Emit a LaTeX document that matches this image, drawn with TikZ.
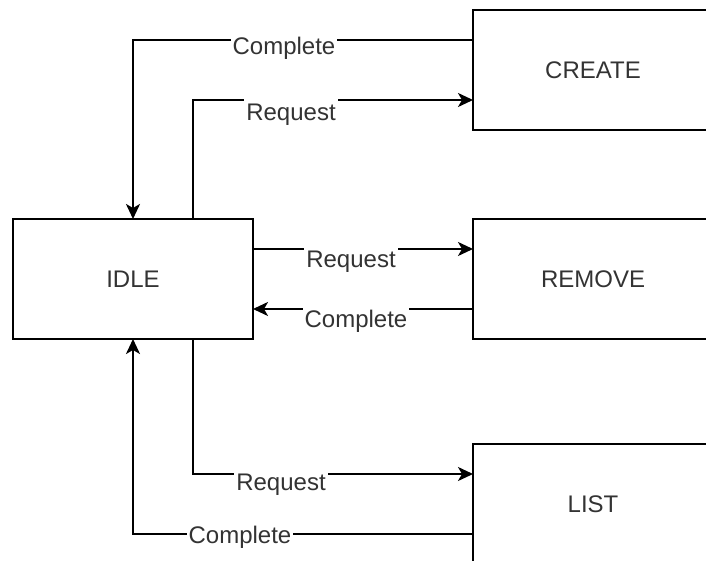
\documentclass[tikz,border=0pt]{standalone}
\usepackage{fontspec}
\setmainfont{Liberation Sans}
\usetikzlibrary{arrows.meta}
\begin{document}
\begin{tikzpicture}[x=1pt,y=-1pt,
  state/.style={draw, line width=2pt, minimum width=240pt, minimum height=120pt,
    outer sep=0pt, inner sep=0pt, font=\fontsize{24}{28}\selectfont, text=black!80},
  link/.style={line width=2pt, -{Stealth[length=15pt,width=14pt,inset=4pt]}},
  lbl/.style={fill=white, anchor=base, inner xsep=2pt, inner ysep=7pt,
    font=\fontsize{24}{28}\selectfont, text=black!80}]
\useasboundingbox (0,0) rectangle (706,561);
\clip (0,0) rectangle (706,561);

% states
\node[state] (idle)   at (133,279) {IDLE};
\node[state] (create) at (593,70)  {CREATE};
\node[state] (remove) at (593,279) {REMOVE};
\node[state] (list)   at (593,504) {LIST};

% attachment points on the borders
\coordinate (idleTopR) at ([xshift=60pt]idle.north);
\coordinate (idleBotR) at ([xshift=60pt]idle.south);
\coordinate (idleEastHi) at ([yshift=30pt]idle.east);
\coordinate (idleEastLo) at ([yshift=-30pt]idle.east);
\coordinate (createHi) at ([yshift=30pt]create.west);
\coordinate (createLo) at ([yshift=-30pt]create.west);
\coordinate (removeHi) at ([yshift=30pt]remove.west);
\coordinate (removeLo) at ([yshift=-30pt]remove.west);
\coordinate (listHi) at ([yshift=30pt]list.west);
\coordinate (listLo) at ([yshift=-30pt]list.west);

% transitions
\draw[link] (createHi) -| (idle.north);
\draw[link] (idleTopR) |- (createLo);
\draw[link] (idleEastHi) -- (removeHi);
\draw[link] (removeLo) -- (idleEastLo);
\draw[link] (idleBotR) |- (listHi);
\draw[link] (listLo) -| (idle.south);

% transition labels
\node[lbl] (l1) at (284,55)  {Complete};
\node[lbl] (l2) at (291,121) {Request};
\node[lbl] (l3) at (351,267) {Request};
\node[lbl] (l4) at (356,327) {Complete};
\node[lbl] (l5) at (281,490) {Request};
\node[lbl] (l6) at (240,543) {Complete};
\end{tikzpicture}
\end{document}
